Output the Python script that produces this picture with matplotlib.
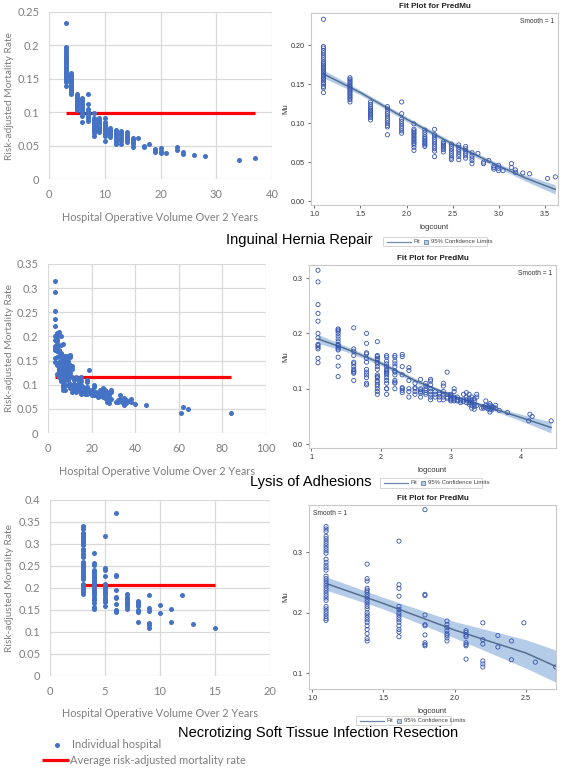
import numpy as np
import matplotlib
matplotlib.use('Agg')
import matplotlib.pyplot as plt
from matplotlib.ticker import FuncFormatter, FormatStrFormatter
from matplotlib.patches import Rectangle

# ---------------- data ----------------
hernia_volumes = [3, 4, 5, 6, 7, 8, 9, 10, 11, 12, 13, 14, 15, 16, 17, 18, 19, 20, 21, 23, 24, 26, 28, 34, 37]
hernia_rates = [
    [0.233, 0.198, 0.196, 0.193, 0.19, 0.187, 0.184, 0.181, 0.178, 0.176, 0.174, 0.172, 0.17, 0.168,
     0.166, 0.164, 0.162, 0.16, 0.158, 0.156, 0.154, 0.152, 0.15, 0.147, 0.145, 0.139],
    [0.158, 0.156, 0.154, 0.152, 0.15, 0.148, 0.146, 0.144, 0.142, 0.14, 0.138, 0.136, 0.134, 0.132, 0.13, 0.127],
    [0.127, 0.124, 0.121, 0.119, 0.117, 0.115, 0.113, 0.111, 0.109, 0.107, 0.104],
    [0.121, 0.118, 0.115, 0.112, 0.109, 0.106, 0.103, 0.1, 0.097, 0.095, 0.085],
    [0.127, 0.112, 0.105, 0.102, 0.099, 0.096, 0.093, 0.09, 0.087],
    [0.099, 0.092, 0.09, 0.088, 0.086, 0.084, 0.082, 0.08, 0.078, 0.076, 0.074, 0.072, 0.069, 0.065],
    [0.091, 0.088, 0.085, 0.082, 0.08, 0.078, 0.076, 0.074, 0.072, 0.07],
    [0.092, 0.085, 0.082, 0.079, 0.076, 0.073, 0.07, 0.067, 0.064, 0.057],
    [0.076, 0.074, 0.072, 0.07, 0.068, 0.066, 0.063],
    [0.073, 0.07, 0.067, 0.064, 0.061, 0.058, 0.055, 0.053],
    [0.072, 0.069, 0.066, 0.063, 0.06, 0.057, 0.053],
    [0.07, 0.067, 0.064, 0.061, 0.058, 0.055],
    [0.062, 0.058, 0.055, 0.052, 0.048],
    [0.061],
    [0.05, 0.048],
    [0.052],
    [0.045, 0.043, 0.041],
    [0.046, 0.042, 0.039],
    [0.039],
    [0.048, 0.043],
    [0.04, 0.037],
    [0.036],
    [0.035],
    [0.029],
    [0.031],
]
hernia_average = 0.099
hernia_fit_x = [1.0986, 1.5, 2.0, 2.5, 3.0, 3.3, 3.61]
hernia_fit = [0.163, 0.139, 0.105, 0.073, 0.045, 0.029, 0.015]
hernia_lo = [0.158, 0.136, 0.102, 0.070, 0.042, 0.025, 0.009]
hernia_hi = [0.168, 0.142, 0.108, 0.076, 0.048, 0.033, 0.021]

lysis_volumes = [3, 4, 5, 6, 7, 8, 9, 10, 11, 12, 13, 14, 15, 16, 17, 18, 19, 20, 21, 22, 23, 24, 25, 26,
                 27, 28, 29, 31, 32, 33, 34, 35, 36, 37, 38, 40, 45, 61, 62, 64, 84]
lysis_rates = [
    [0.314, 0.293, 0.252, 0.236, 0.222, 0.2, 0.192, 0.18, 0.178, 0.175, 0.172, 0.155, 0.147],
    [0.208, 0.206, 0.204, 0.2, 0.195, 0.19, 0.185, 0.18, 0.178, 0.175, 0.172, 0.17, 0.157, 0.141, 0.122],
    [0.21, 0.172, 0.168, 0.16, 0.148, 0.145, 0.14, 0.135, 0.132, 0.13, 0.128, 0.115],
    [0.2, 0.182, 0.165, 0.163, 0.155, 0.148, 0.135, 0.13, 0.125, 0.12, 0.11, 0.107],
    [0.185, 0.16, 0.158, 0.155, 0.152, 0.148, 0.145, 0.14, 0.135, 0.125, 0.122, 0.12, 0.115, 0.112,
     0.108, 0.105, 0.1, 0.095, 0.09],
    [0.16, 0.157, 0.15, 0.145, 0.14, 0.135, 0.132, 0.13, 0.128, 0.125, 0.12, 0.115, 0.11, 0.1, 0.1, 0.09],
    [0.16, 0.157, 0.15, 0.145, 0.14, 0.132, 0.13, 0.125, 0.115, 0.112, 0.11, 0.1],
    [0.162, 0.158, 0.14, 0.125, 0.102, 0.1, 0.097, 0.093],
    [0.138, 0.133, 0.115, 0.1, 0.095, 0.085],
    [0.11, 0.102, 0.1, 0.095, 0.09],
    [0.117, 0.1, 0.098, 0.095, 0.092, 0.085],
    [0.11, 0.105, 0.1, 0.097, 0.093, 0.09],
    [0.117, 0.114, 0.107, 0.1, 0.095, 0.09, 0.085, 0.08],
    [0.095, 0.09, 0.085],
    [0.093, 0.09, 0.085, 0.08],
    [0.11, 0.105, 0.095, 0.09, 0.085, 0.08],
    [0.13, 0.09, 0.085, 0.083],
    [0.09, 0.088, 0.085, 0.082, 0.08, 0.078],
    [0.1, 0.095, 0.085, 0.082, 0.08, 0.078],
    [0.085, 0.08, 0.078],
    [0.08, 0.078, 0.075],
    [0.09, 0.08, 0.077],
    [0.093, 0.085, 0.08, 0.075],
    [0.09, 0.083, 0.078, 0.075, 0.072],
    [0.085, 0.08, 0.075, 0.07, 0.065],
    [0.082, 0.078, 0.072, 0.068, 0.063],
    [0.09, 0.085, 0.07],
    [0.065],
    [0.068, 0.065],
    [0.078, 0.07, 0.066],
    [0.068, 0.064],
    [0.073, 0.07, 0.066, 0.062, 0.058],
    [0.068, 0.065, 0.062],
    [0.066],
    [0.07, 0.065],
    [0.061],
    [0.057],
    [0.042],
    [0.054],
    [0.05],
    [0.042],
]
lysis_average = 0.115
lysis_fit_x = [1.0986, 1.5, 2.0, 2.5, 3.0, 3.5, 4.0, 4.43]
lysis_fit = [0.19, 0.172, 0.146, 0.114, 0.088, 0.068, 0.048, 0.03]
lysis_lo = [0.182, 0.167, 0.142, 0.110, 0.085, 0.065, 0.042, 0.02]
lysis_hi = [0.198, 0.177, 0.150, 0.118, 0.091, 0.071, 0.054, 0.04]

nsti_volumes = [3, 4, 5, 6, 7, 8, 9, 10, 11, 12, 13, 15]
nsti_rates = [
    [0.342, 0.338, 0.334, 0.326, 0.322, 0.318, 0.314, 0.31, 0.306, 0.302, 0.298, 0.288, 0.283, 0.278,
     0.274, 0.27, 0.26, 0.256, 0.252, 0.248, 0.244, 0.24, 0.236, 0.232, 0.228, 0.224, 0.22, 0.21,
     0.206, 0.202, 0.198, 0.194, 0.19, 0.187],
    [0.28, 0.256, 0.252, 0.24, 0.237, 0.234, 0.23, 0.226, 0.222, 0.218, 0.214, 0.21, 0.206, 0.2,
     0.196, 0.192, 0.188, 0.184, 0.178, 0.172, 0.165, 0.157, 0.153],
    [0.318, 0.246, 0.24, 0.227, 0.21, 0.205, 0.2, 0.196, 0.192, 0.188, 0.184, 0.178, 0.172, 0.168, 0.16],
    [0.37, 0.23, 0.228, 0.196, 0.18, 0.178, 0.163, 0.15, 0.147, 0.145],
    [0.186, 0.18, 0.175, 0.17, 0.165, 0.162, 0.158, 0.153],
    [0.17, 0.167, 0.163, 0.16, 0.15, 0.147, 0.145, 0.123],
    [0.183, 0.155, 0.148, 0.12, 0.115, 0.11],
    [0.162, 0.143],
    [0.153, 0.122],
    [0.183],
    [0.118],
    [0.11],
]
nsti_average = 0.207
nsti_fit_x = [1.0986, 1.5, 2.0, 2.5, 2.708]
nsti_fit = [0.248, 0.215, 0.171, 0.133, 0.111]
nsti_lo = [0.237, 0.206, 0.158, 0.108, 0.085]
nsti_hi = [0.259, 0.225, 0.185, 0.155, 0.138]

titles = ["Inguinal Hernia Repair", "Lysis of Adhesions", "Necrotizing Soft Tissue Infection Resection"]

# ---------------- styling ----------------
W, H = 561, 768
fig = plt.figure(figsize=(W / 100, H / 100), dpi=100)
fig.patch.set_facecolor('white')

EXCEL_FONT = ['Lato', 'DejaVu Sans']
SAS_FONT = ['Liberation Sans Narrow', 'Liberation Sans', 'DejaVu Sans']
GRAY = '#7F7F7F'


def px_axes(x0, y0, x1, y1):
    return fig.add_axes([x0 / W, 1 - y1 / H, (x1 - x0) / W, (y1 - y0) / H])


def flatten(vols, rates):
    x = np.concatenate([[v] * len(r) for v, r in zip(vols, rates)]).astype(float)
    y = np.concatenate([np.asarray(r, float) for r in rates])
    return x, y


def excel_panel(box, vols, rates, avg, xmax, xstep, ymax, ystep, xlab_y):
    ax = px_axes(*box)
    x, y = flatten(vols, rates)
    ax.set_xlim(0, xmax)
    ax.set_ylim(0, ymax)
    ax.set_xticks(np.arange(0, xmax + 1e-9, xstep))
    ax.set_yticks(np.arange(0, ymax + 1e-9, ystep))
    ax.yaxis.set_major_formatter(FuncFormatter(lambda v, p: f'{round(v, 4):g}'))
    ax.xaxis.set_major_formatter(FuncFormatter(lambda v, p: f'{round(v, 4):g}'))
    ax.grid(True, color='#D9D9D9', lw=0.9)
    ax.set_axisbelow(True)
    for s in ax.spines.values():
        s.set_visible(False)
    ax.tick_params(length=0, colors=GRAY, labelsize=8, pad=7)
    for lab in ax.get_xticklabels() + ax.get_yticklabels():
        lab.set_family(EXCEL_FONT)
    ax.plot([min(vols), max(vols)], [avg, avg], color='#FF0000', lw=2.3, zorder=2,
            solid_capstyle='butt')
    ax.scatter(x, y, s=13, color='#4472C4', linewidths=0, zorder=3, clip_on=False)
    ax.set_ylabel('Risk-adjusted Mortality Rate', color=GRAY, fontsize=7.4, family=EXCEL_FONT)
    ax.set_xlabel('Hospital Operative Volume Over 2 Years', color=GRAY, fontsize=7.8, family=EXCEL_FONT)
    bw = box[2] - box[0]
    bh = box[3] - box[1]
    ax.yaxis.set_label_coords((14 - box[0]) / bw, 0.5)
    ax.xaxis.set_label_coords(0.5, (box[3] - xlab_y) / bh)
    return ax


def sas_panel(box, vols, rates, fx, fit, lo, hi, xlim, ylim, xticks, yticks, xfmt, yfmt, smooth_left):
    ax = px_axes(*box)
    x, y = flatten(vols, rates)
    lx = np.log(x)
    ax.fill_between(fx, lo, hi, color='#B4CCE8', lw=0, zorder=1)
    ax.plot(fx, fit, color='#55708F', lw=1.1, zorder=2)
    ax.scatter(lx, y, s=9, facecolors='none', edgecolors='#3656B0', linewidths=0.6, zorder=3)
    ax.set_xlim(*xlim)
    ax.set_ylim(*ylim)
    ax.set_xticks(xticks)
    ax.set_yticks(yticks)
    ax.xaxis.set_major_formatter(FormatStrFormatter(xfmt))
    ax.yaxis.set_major_formatter(FormatStrFormatter(yfmt))
    for s in ax.spines.values():
        s.set_color('#C8C8C8')
        s.set_linewidth(0.8)
    ax.tick_params(direction='out', length=2.5, width=0.6, color='#555555', colors='#333333',
                   labelsize=5.2, pad=2)
    for lab in ax.get_xticklabels() + ax.get_yticklabels():
        lab.set_family(SAS_FONT)
    ax.set_xlabel('logcount', fontsize=5.5, color='#333333', family=SAS_FONT)
    ax.set_ylabel('Mu', fontsize=5.5, color='#333333', family=SAS_FONT)
    bw = box[2] - box[0]
    bh = box[3] - box[1]
    ax.xaxis.set_label_coords(0.5, -19 / bh)
    ax.yaxis.set_label_coords((289 - box[0]) / bw, 0.5)
    if smooth_left:
        ax.text(0.015, 0.975, 'Smooth = 1', transform=ax.transAxes, ha='left', va='top',
                fontsize=4.8, color='#333333', family=SAS_FONT)
    else:
        ax.text(0.985, 0.975, 'Smooth = 1', transform=ax.transAxes, ha='right', va='top',
                fontsize=4.8, color='#333333', family=SAS_FONT)
    cx = (box[0] + box[2]) / 2
    ov.text(cx, box[1] - 6, 'Fit Plot for PredMu', ha='center', va='center', fontsize=5.8,
            fontweight='bold', color='#222222', family=SAS_FONT)
    return ax


# overlay for figure-level annotations in pixel coordinates
ov = fig.add_axes([0, 0, 1, 1], zorder=10)
ov.set_xlim(0, W)
ov.set_ylim(H, 0)
ov.axis('off')
ov.patch.set_alpha(0)

# ---------- panels ----------
a1 = excel_panel((49, 12, 272, 179), hernia_volumes, hernia_rates, hernia_average, 40, 10, 0.25, 0.05, 212)
b1 = sas_panel((311, 13, 558, 205), hernia_volumes, hernia_rates, hernia_fit_x, hernia_fit, hernia_lo,
               hernia_hi, (0.964, 3.64), (-0.005, 0.241), [1.0, 1.5, 2.0, 2.5, 3.0, 3.5],
               [0.0, 0.05, 0.10, 0.15, 0.20], '%.1f', '%.2f', False)

a2 = excel_panel((48, 264, 266, 433), lysis_volumes, lysis_rates, lysis_average, 100, 20, 0.35, 0.05, 466)
b2 = sas_panel((309, 265, 556, 448), lysis_volumes, lysis_rates, lysis_fit_x, lysis_fit, lysis_lo,
               lysis_hi, (0.97, 4.5), (-0.007, 0.3235), [1, 2, 3, 4], [0.0, 0.1, 0.2, 0.3],
               '%d', '%.1f', False)

a3 = excel_panel((50, 500, 270, 676), nsti_volumes, nsti_rates, nsti_average, 20, 5, 0.4, 0.05, 708)
b3 = sas_panel((309, 505, 556, 689), nsti_volumes, nsti_rates, nsti_fit_x, nsti_fit, nsti_lo, nsti_hi,
               (0.979, 2.71), (0.0736, 0.3777), [1.0, 1.5, 2.0, 2.5], [0.1, 0.2, 0.3],
               '%.1f', '%.1f', True)


# ---------- SAS legends ----------
def sas_legend(x0, y0, x1, y1):
    ov.add_patch(Rectangle((x0, y0), x1 - x0, y1 - y0, fill=False, ec='#CFCFCF', lw=0.6))
    ym = (y0 + y1) / 2
    ov.plot([x0 + 4, x0 + 28], [ym, ym], color='#6F87A8', lw=0.9)
    ov.text(x0 + 31, ym, 'Fit', fontsize=4.3, va='center', ha='left', color='#444444', family=SAS_FONT)
    ov.add_patch(Rectangle((x0 + 41, ym - 2), 4, 4, fc='#B4CCE8', ec='#55708F', lw=0.5))
    ov.text(x0 + 48, ym, '95% Confidence Limits', fontsize=4.3, va='center', ha='left',
            color='#444444', family=SAS_FONT)


sas_legend(383, 237, 487, 246)
sas_legend(380, 478, 482, 488)
sas_legend(356, 716, 451, 725)

# ---------- section titles ----------
ov.text(299, 240, titles[0], ha='center', va='center', fontsize=10.5, color='black',
        family=['Liberation Sans', 'DejaVu Sans'])
ov.text(311, 482, titles[1], ha='center', va='center', fontsize=10.5, color='black',
        family=['Liberation Sans', 'DejaVu Sans'])
ov.text(318, 733, titles[2], ha='center', va='center', fontsize=10.5, color='black',
        family=['Liberation Sans', 'DejaVu Sans'])

# ---------- bottom legend ----------
ov.scatter([57], [745], s=13, color='#4472C4', linewidths=0)
ov.text(72, 745, 'Individual hospital', ha='left', va='center', fontsize=8, color=GRAY, family=EXCEL_FONT)
ov.plot([42, 69], [760, 760], color='#FF0000', lw=2.3, solid_capstyle='butt')
ov.text(70, 760, 'Average risk-adjusted mortality rate', ha='left', va='center', fontsize=8,
        color=GRAY, family=EXCEL_FONT)

fig.savefig('out.png', dpi=100, facecolor='white')
